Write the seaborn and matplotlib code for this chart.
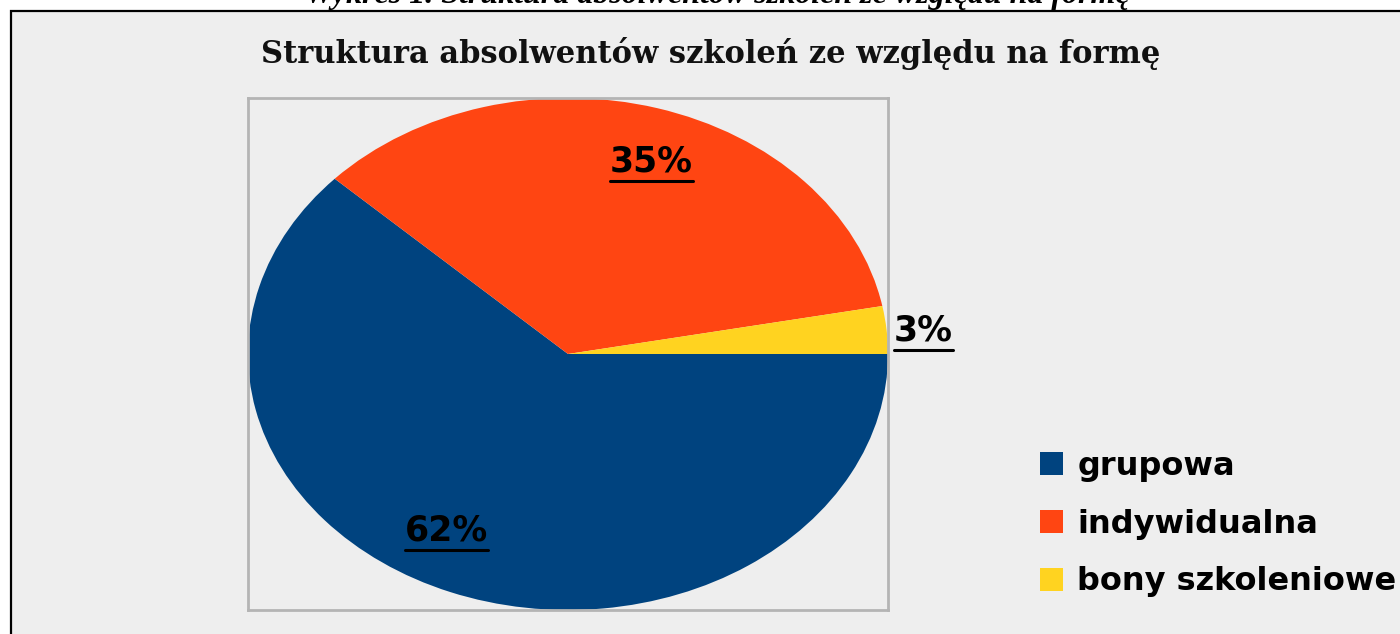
import matplotlib
matplotlib.use("Agg")
import matplotlib.pyplot as plt
from matplotlib.patches import Rectangle
from matplotlib.lines import Line2D
import seaborn as sns

# ---- data ----
categories = ["grupowa", "indywidualna", "bony szkoleniowe"]
shares = [62, 35, 3]
colors = ["#00437F", "#FF4512", "#FFD320"]
title = "Struktura absolwentów szkoleń ze względu na formę"
caption = "Wykres 1. Struktura absolwentów szkoleń ze względu na formę"

# ---- layout ----
label_pos = [(-0.38, -0.69), (0.26, 0.75), (1.11, 0.09)]

sns.set_style("white")
plt.rcParams["font.family"] = ["DejaVu Sans"]

W, H = 1400, 634
fig = plt.figure(figsize=(W / 100, H / 100), dpi=100)
fig.patch.set_facecolor("white")

# outer chart area box
fig.patches.append(Rectangle((10.5 / W, -0.05), 1.2, 1 - 10.5 / H + 0.05,
                             transform=fig.transFigure, facecolor="#EEEEEE",
                             edgecolor="black", linewidth=1.6, zorder=-5))

ax = fig.add_axes([248 / W, 24 / H, 640 / W, 512 / H])
ax.set_zorder(2)
wedges, _ = ax.pie(shares, colors=colors, startangle=0, counterclock=False,
                   radius=1, wedgeprops=dict(linewidth=0))
ax.set_aspect("auto")
ax.set_xlim(-1, 1)
ax.set_ylim(-1, 1)
ax.set_frame_on(True)
ax.set_facecolor("#EEEEEE")
for s in ax.spines.values():
    s.set_visible(True)
    s.set_color("#B4B4B4")
    s.set_linewidth(2)
ax.set_xticks([])
ax.set_yticks([])

labels = []
for v, (x, y) in zip(shares, label_pos):
    t = ax.text(x, y, f"{v}%", ha="center", va="center", fontsize=25,
                fontweight="bold", color="black", clip_on=False, zorder=5)
    labels.append(t)

fig.text(711 / W, 1 - 53 / H, title, ha="center", va="center",
         fontsize=22, fontweight="bold", family="DejaVu Serif", color="#111111")
fig.text(717 / W, 1 - 3 / H, caption, ha="center", va="baseline",
         fontsize=23, fontweight="bold", style="italic", family="Liberation Serif",
         color="black")

leg = fig.legend(wedges, categories, loc="center left",
                 bbox_to_anchor=(1011 / W, 1 - 524 / H), frameon=False,
                 prop=dict(size=23, weight="bold"), handlelength=0.72,
                 handleheight=0.72, handletextpad=0.45, labelspacing=0.84,
                 labelcolor="black")
leg.set_zorder(3)

# underline the percentage labels using their rendered extents
fig.canvas.draw()
r = fig.canvas.get_renderer()
inv = fig.transFigure.inverted()
for t in labels:
    bb = t.get_window_extent(r)
    (x0, y0), (x1, _) = inv.transform([(bb.x0, bb.y0), (bb.x1, bb.y1)])
    yl = y0 - 2 / H
    ln = Line2D([x0, x1], [yl, yl], transform=fig.transFigure,
                color="black", linewidth=2.2)
    ln.set_zorder(6)
    fig.add_artist(ln)

fig.savefig("out.png", dpi=100, facecolor=fig.get_facecolor())
